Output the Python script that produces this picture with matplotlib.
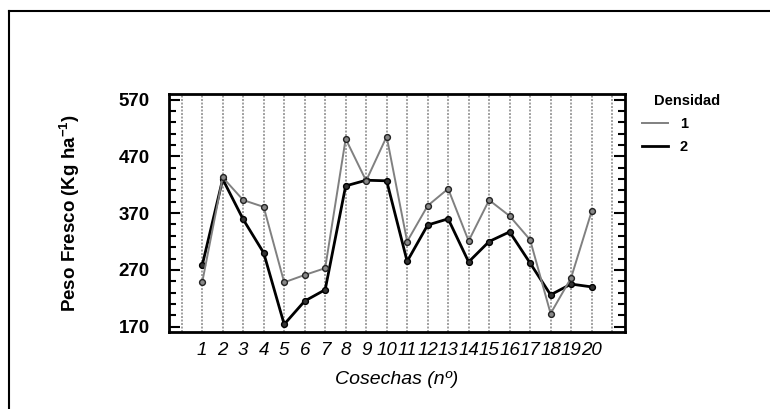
import matplotlib
matplotlib.use("Agg")
import matplotlib.pyplot as plt
from matplotlib.lines import Line2D
import numpy as np

plt.rcParams['font.family'] = ['Liberation Sans', 'DejaVu Sans']
plt.rcParams['mathtext.fontset'] = 'custom'
plt.rcParams['mathtext.rm'] = 'Liberation Sans'
plt.rcParams['mathtext.bf'] = 'Liberation Sans:bold'
plt.rcParams['mathtext.it'] = 'Liberation Sans:italic'

cosechas = list(range(1, 21))
densidad_1 = [248, 433, 393, 381, 248, 261, 273, 501, 427, 505,
              320, 383, 413, 321, 393, 365, 323, 193, 256, 373]
densidad_2 = [278, 430, 359, 300, 174, 215, 235, 418, 428, 427,
              285, 349, 360, 284, 320, 337, 282, 226, 245, 240]
y_major = [170, 270, 370, 470, 570]
series_labels = ['1', '2']
legend_title = 'Densidad'

W, H = 770, 409
fig = plt.figure(figsize=(W / 100, H / 100), dpi=100)
ax = fig.add_axes([169 / W, 1 - 332 / H, (625 - 169) / W, (332 - 94) / H])

# vertical dotted grid lines
for xv in range(0, 22):
    ax.axvline(xv, color='#a0a0a0', lw=1.4, ls=(0, (1.0, 0.8)), zorder=1)

l2, = ax.plot(cosechas, densidad_2, color='black', lw=2.0, marker='o', ms=4.2,
              mfc='#333333', mec='black', mew=1.0, zorder=3)
l1, = ax.plot(cosechas, densidad_1, color='#808080', lw=1.4, marker='o', ms=4.2,
              mfc='#888888', mec='#222222', mew=1.0, zorder=4)

ax.set_xlim(-0.62, 21.63)
ax.set_ylim(160.5, 580)
ax.set_yticks(y_major)
ax.set_yticks(np.arange(170, 571, 20), minor=True)
ax.set_xticks(cosechas)
ax.set_xticklabels([str(c) for c in cosechas], fontstyle='italic', fontsize=13.5)
ax.set_yticklabels([str(v) for v in y_major], fontweight='bold', fontsize=13.5)
ax.tick_params(axis='y', which='major', direction='in', length=8, width=1.5,
               right=True, left=True, pad=14)
ax.tick_params(axis='y', which='minor', direction='in', length=5, width=1.5,
               right=True, left=True)
ax.tick_params(axis='x', which='both', length=0, pad=7)
for s in ax.spines.values():
    s.set_linewidth(2.0)

ax.set_xlabel('Cosechas (nº)', fontstyle='italic', fontsize=14, labelpad=9)
ax.set_ylabel('Peso Fresco (Kg ha$^{\\mathbf{-1}}$)', fontweight='bold', fontsize=13.5,
              labelpad=26)

# legend
fig.text(687 / W, 1 - 101 / H, legend_title, ha='center', va='center',
         fontweight='bold', fontsize=10.5)
leg = fig.legend([l1, l2], series_labels, loc='upper left',
                 bbox_to_anchor=(641.7 / W, 1 - 117 / H), frameon=False,
                 borderpad=0, borderaxespad=0, handlelength=1.82,
                 handletextpad=0.8, labelspacing=0.6,
                 prop={'weight': 'bold', 'size': 10.5})
for h in leg.legend_handles:
    h.set_marker('')

# figure border (left and top)
fig.add_artist(Line2D([9 / W, 9 / W], [0, 1 - 11 / H], transform=fig.transFigure,
                      color='black', lw=1.5))
fig.add_artist(Line2D([9 / W, 1], [1 - 11 / H, 1 - 11 / H], transform=fig.transFigure,
                      color='black', lw=1.5))

fig.savefig('out.png', dpi=100)
